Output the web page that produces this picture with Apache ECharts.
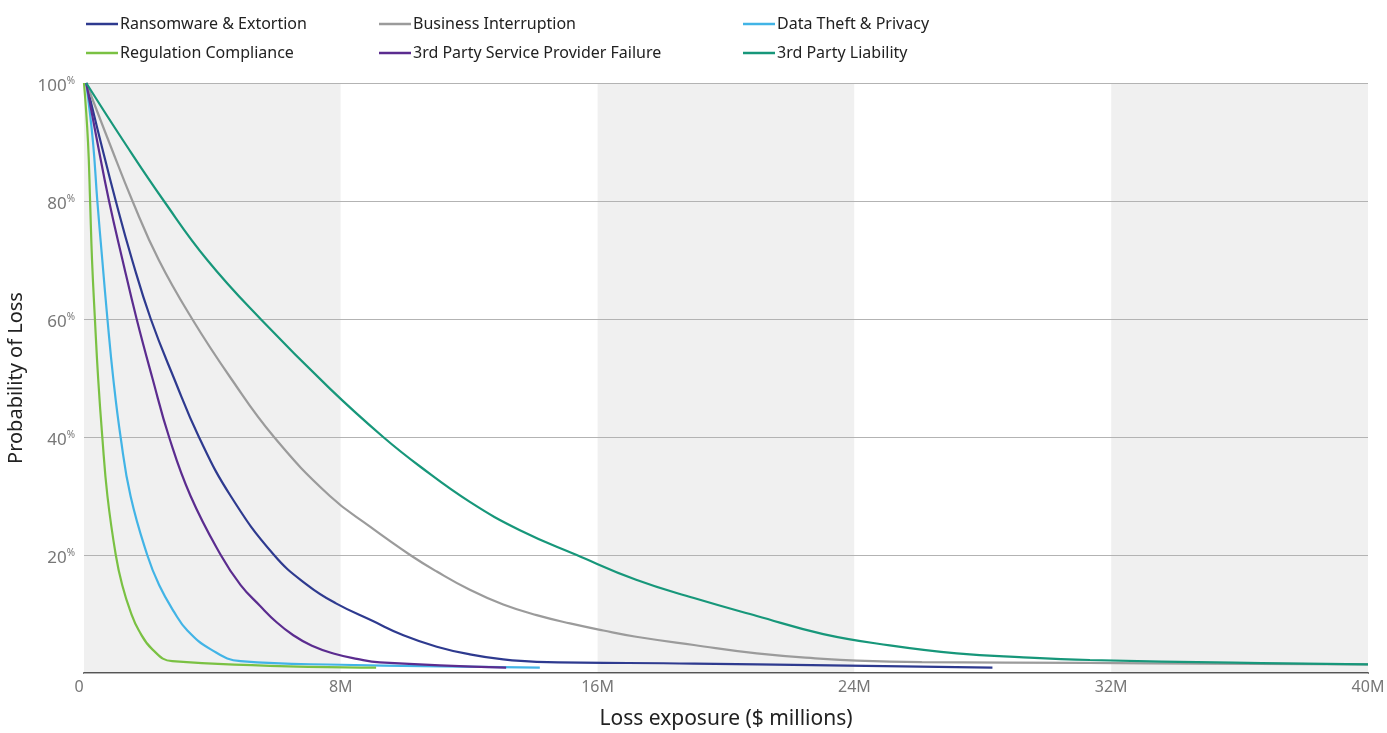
<!DOCTYPE html>
<html>
<head>
<meta charset="utf-8">
<title>Probability of Loss</title>
<script src="https://cdn.jsdelivr.net/npm/echarts@6/dist/echarts.min.js"></script>
<style>
  html, body { margin: 0; padding: 0; background: #fff; }
  #chart { width: 1387px; height: 733px; }
</style>
</head>
<body>
<div id="chart"></div>
<script>
// loss exposure in $M, probability in %
const names = [
  'Ransomware & Extortion',
  'Business Interruption',
  'Data Theft & Privacy',
  'Regulation Compliance',
  '3rd Party Service Provider Failure',
  '3rd Party Liability'
];
const xTicks = [0, 8, 16, 24, 32, 40];
const yTicks = [0, 20, 40, 60, 80, 100];

const ransomware = [[0.07,100],[0.52,90],[0.99,80],[1.5,70],[2.08,60],[2.8,50],[3.58,40],[4.57,30],[5.92,20],[6.96,14.9],[7.85,11.8],[9.0,8.8],[9.95,6.4],[10.99,4.46],[12.02,3.16],[13.06,2.3],[14.1,1.9],[19,1.6],[28.3,0.9]];
const business = [[0.07,100],[0.78,90],[1.51,80],[2.33,70],[3.37,60],[4.57,50],[5.92,40],[7.66,30],[8.91,24.8],[10.16,20],[10.99,17.2],[12.02,14.1],[13.06,11.6],[14.1,9.8],[15.14,8.4],[16.18,7.2],[17.2,6.15],[19.0,4.75],[20.96,3.33],[23.03,2.4],[24.07,2.1],[26.1,1.86],[31.3,1.7],[40,1.45]];
const dataTheft = [[0.07,100],[0.28,90],[0.415,80],[0.57,70],[0.73,60],[0.91,50],[1.14,40],[1.45,30],[1.97,20],[2.34,14.9],[2.8,10.4],[3.22,7.2],[3.95,4.0],[4.88,2.0],[8,1.4],[14.2,0.9]];
const regulation = [[0,100],[0.125,90],[0.19,80],[0.25,70],[0.34,60],[0.44,50],[0.57,40],[0.73,30],[0.99,20],[1.19,14.9],[1.45,10.4],[1.71,7.2],[2.13,4.0],[2.75,2.0],[9.1,0.9]];
const provider = [[0.07,100],[0.415,90],[0.78,80],[1.2,70],[1.64,60],[2.13,50],[2.65,40],[3.32,30],[4.26,20],[4.88,14.9],[5.48,11.4],[6.0,8.6],[6.52,6.4],[7.1,4.6],[7.77,3.3],[8.5,2.4],[9.22,1.8],[13.15,0.9]];
const liability = [[0.07,100],[1.25,90],[2.49,80],[3.84,70],[5.5,60],[7.66,48.2],[9.32,40],[10.47,35],[12.02,29],[13.58,24.2],[15.35,20],[17.2,15.8],[19.0,12.7],[20.96,9.66],[23.03,6.6],[25.1,4.69],[27.19,3.33],[29.26,2.65],[31.34,2.2],[35.8,1.75],[40,1.45]];

const seriesData = [ransomware, business, dataTheft, regulation, provider, liability];
const colors = ['#2e3a8f', '#9b9b9b', '#42b4e6', '#7ac143', '#5b2c8f', '#17977a'];

const font = '"Noto Sans", "Open Sans", sans-serif';

function legendCol(left, items) {
  return {
    left: left,
    top: 10,
    orient: 'vertical',
    data: items,
    icon: 'rect',
    itemWidth: 32,
    itemHeight: 2.5,
    itemGap: 11,
    selectedMode: false,
    textStyle: { fontFamily: font, fontSize: 16, color: '#222', lineHeight: 18, padding: [0, 0, 0, -3] }
  };
}

const chart = echarts.init(document.getElementById('chart'));
chart.setOption({
  animation: false,
  color: colors,
  legend: [
    legendCol(81, [names[0], names[3]]),
    legendCol(374, [names[1], names[4]]),
    legendCol(738, [names[2], names[5]])
  ],
  grid: { left: 84, right: 19, top: 83, bottom: 60, containLabel: false, outerBoundsMode: 'none' },
  xAxis: {
    type: 'value',
    z: 0,
    min: xTicks[0],
    max: xTicks[xTicks.length - 1],
    interval: 8,
    name: 'Loss exposure ($ millions)',
    nameLocation: 'middle',
    nameGap: 36,
    nameTextStyle: { fontFamily: font, fontSize: 21, color: '#222' },
    axisLine: { lineStyle: { color: '#555', width: 2 } },
    axisTick: { show: false },
    splitLine: { show: false },
    splitArea: { show: true, areaStyle: { color: ['#f0f0f0', '#ffffff'] } },
    axisLabel: {
      fontFamily: font, fontSize: 16, color: '#777', margin: 6,
      formatter: v => v === 0 ? '{z|0}' : v + 'M',
      rich: { z: { fontFamily: font, fontSize: 16, color: '#777', padding: [0, 10, 0, 0] } }
    }
  },
  yAxis: {
    type: 'value',
    z: 1,
    min: yTicks[0],
    max: yTicks[yTicks.length - 1],
    interval: 20,
    name: 'Probability of Loss',
    nameLocation: 'middle',
    nameGap: 48,
    nameTextStyle: { fontFamily: font, fontSize: 20, color: '#222' },
    axisLine: { show: false },
    axisTick: { show: false },
    splitLine: { lineStyle: { color: '#b3b3b3', width: 1 } },
    axisLabel: {
      margin: 9,
      padding: [7, 0, 0, 0],
      formatter: v => v === 0 ? '' : '{n|' + v + '}{p|%}',
      rich: {
        n: { fontFamily: font, fontSize: 17, color: '#777', lineHeight: 20 },
        p: { fontFamily: font, fontSize: 10, color: '#777', lineHeight: 12, verticalAlign: 'top' }
      }
    }
  },
  series: names.map((name, i) => ({
    name: name,
    type: 'line',
    z: 3,
    data: seriesData[i],
    showSymbol: false,
    symbol: 'none',
    smooth: 0.45,
    lineStyle: { width: 2.2, color: colors[i] },
    itemStyle: { color: colors[i] }
  }))
});
</script>
</body>
</html>
